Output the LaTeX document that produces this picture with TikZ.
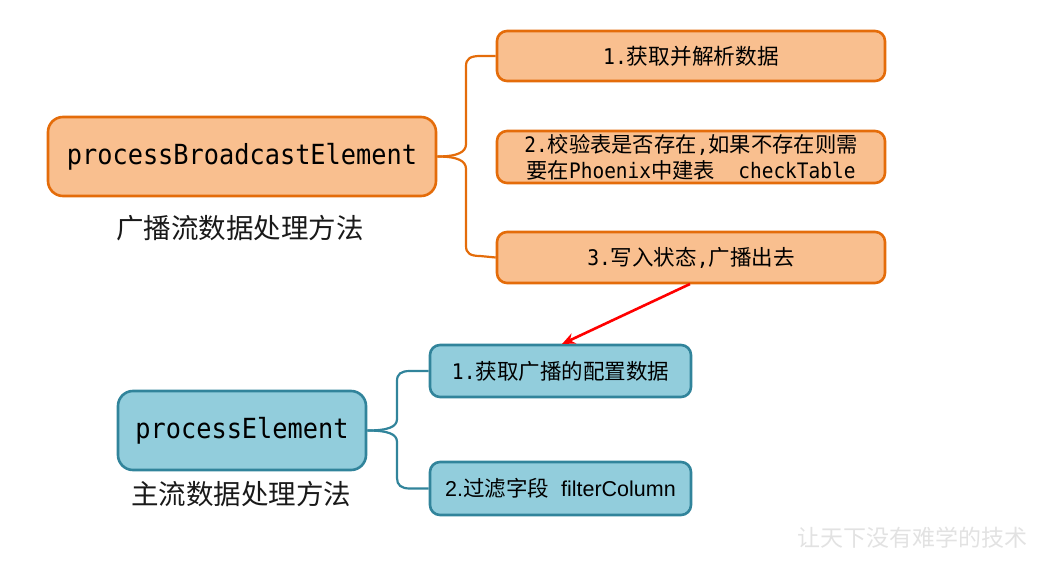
\documentclass[tikz,border=0pt]{standalone}
\usepackage{fontspec}
\setmainfont{Liberation Sans}
\newfontfamily\cjk{Noto Sans CJK SC}
\newfontfamily\mono{DejaVu Sans Mono}[FakeStretch=0.913]
\usetikzlibrary{arrows.meta}
\definecolor{ofill}{HTML}{F9BF8F}
\definecolor{oline}{HTML}{E46C0A}
\definecolor{bfill}{HTML}{92CDDC}
\definecolor{bline}{HTML}{31849B}
\definecolor{wmgray}{HTML}{E2E2E2}
\newcommand\Cj[1]{{\cjk #1}}
\newcommand\Mo[1]{{\mono #1}}
\begin{document}
\begin{tikzpicture}[x=1pt,y=-1pt,
  box/.style={draw, line width=2.6pt, rounded corners=10pt, inner sep=0pt, align=center, text=black},
  obox/.style={box, fill=ofill, draw=oline},
  bbox/.style={box, fill=bfill, draw=bline},
  oconn/.style={draw=oline, line width=2.2pt},
  bconn/.style={draw=bline, line width=2.2pt},
  lbl/.style={font=\cjk\fontsize{27.5}{32}\selectfont, text=black!90},
  mainfont/.style={font=\mono\fontsize{27.7}{32}\selectfont},
]
\useasboundingbox (0,0) rectangle (1049,572);

% top group
\node[obox, rounded corners=15pt, minimum width=388pt, minimum height=79pt, mainfont]
  (pbe) at (242,156.5) {processBroadcastElement};
\node[lbl] (l1) at (240,228) {广播流数据处理方法};

\node[obox, minimum width=388pt, minimum height=50pt, font=\fontsize{21.7}{26}\selectfont]
  (o1) at (691,56) {\Mo{1.}\Cj{获取并解析数据}};
\node[obox, minimum width=388pt, minimum height=52pt, font=\fontsize{21.3}{26}\selectfont]
  (o2) at (691,157) {\Mo{2.}\Cj{校验表是否存在}\Mo{,}\Cj{如果不存在则需}\\\Cj{要在}\Mo{Phoenix}\Cj{中建表}\Mo{~~checkTable}};
\node[obox, minimum width=388pt, minimum height=51pt, font=\fontsize{21.5}{26}\selectfont]
  (o3) at (691,257.5) {\Mo{3.}\Cj{写入状态}\Mo{,}\Cj{广播出去}};

\draw[oconn] (pbe.east) .. controls (458,156.5) and (466,152) .. (466,144) -- (466,66)
  .. controls (466,59) and (470,56) .. (480,56) -- (o1.west);
\draw[oconn] (pbe.east) .. controls (458,156.5) and (466,161) .. (466,169) -- (466,246)
  .. controls (466,253) and (470,256) .. (480,256) -- (o3.west);

% bottom group
\node[bbox, rounded corners=15pt, minimum width=248pt, minimum height=79pt, mainfont]
  (pe) at (242,430.5) {processElement};
\node[lbl] (l2) at (241,494) {主流数据处理方法};

\node[bbox, minimum width=261pt, minimum height=52pt, font=\fontsize{21.5}{26}\selectfont]
  (b1) at (560.5,371) {\Mo{1.}\Cj{获取广播的配置数据}};
\node[bbox, minimum width=261pt, minimum height=53pt, font=\fontsize{21.5}{26}\selectfont]
  (b2) at (560.5,488.5) {2.\Cj{过滤字段}~~filterColumn};

\draw[bconn] (pe.east) .. controls (388,430.5) and (397,427) .. (397,419) -- (397,381)
  .. controls (397,374) and (401,371) .. (410,371) -- (b1.west);
\draw[bconn] (pe.east) .. controls (388,430.5) and (397,434) .. (397,442) -- (397,478)
  .. controls (397,485) and (401,488.5) .. (410,488.5) -- (b2.west);

% red arrow
\coordinate (rs) at (690,284);
\coordinate (re) at (562,344);
\draw[red, line width=2.6pt, -{Stealth[length=13pt,width=11pt]}] (rs) -- (re);

% watermark
\node[font=\cjk\fontsize{23}{26}\selectfont, text=wmgray] (wm) at (912,538) {让天下没有难学的技术};
\end{tikzpicture}
\end{document}
